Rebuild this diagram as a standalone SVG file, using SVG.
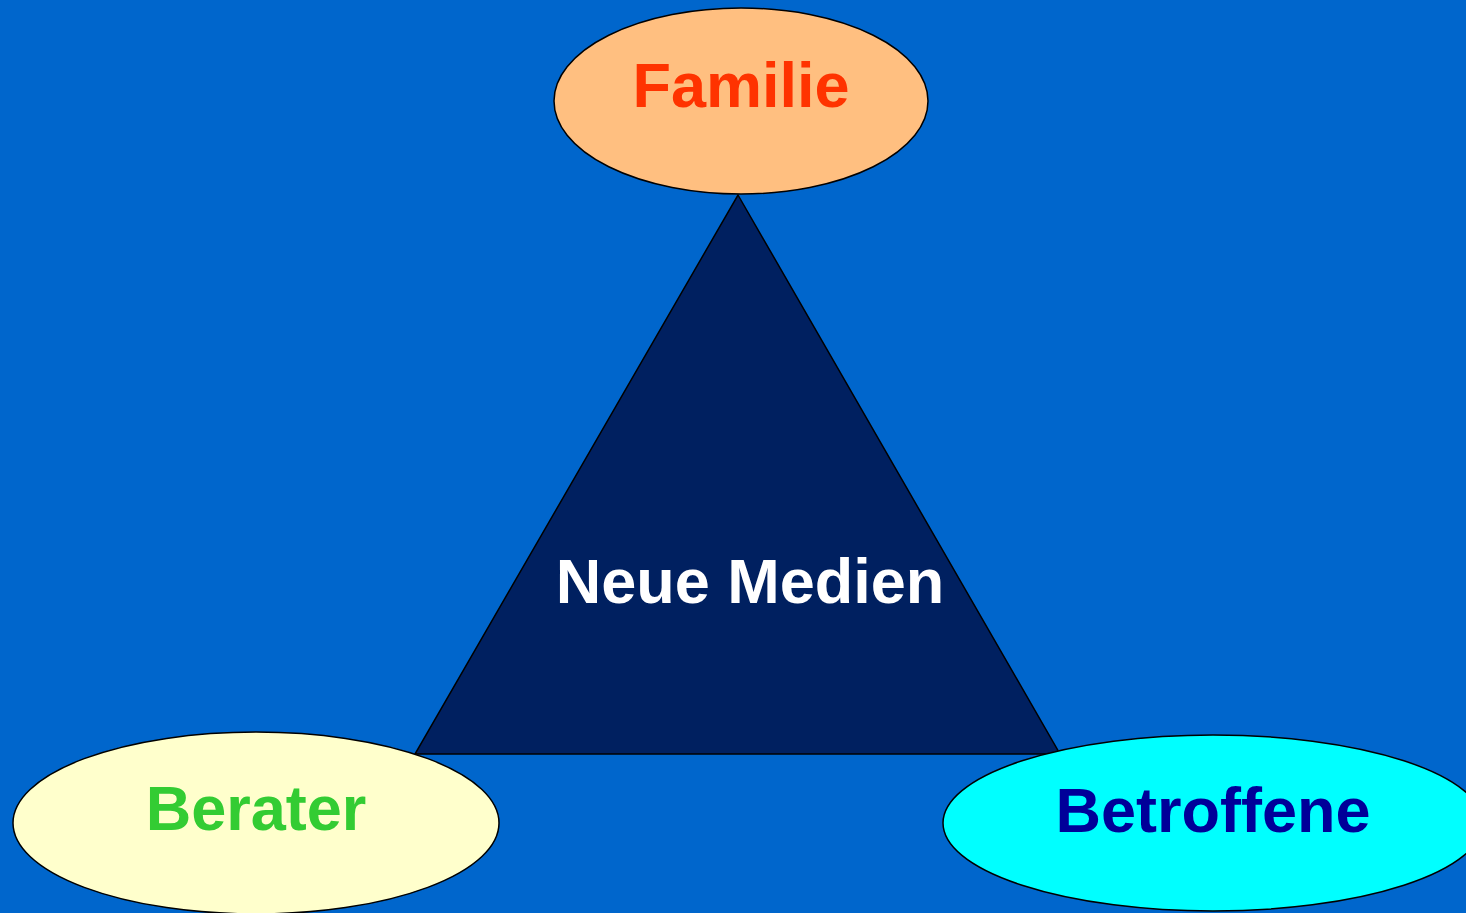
<svg xmlns="http://www.w3.org/2000/svg" width="1466" height="913" viewBox="0 0 1466 913">
<style>
.shape{stroke:#000;stroke-width:1.5}
.lbl{font-family:"Liberation Sans",Arial,sans-serif;font-weight:bold;font-size:63px;text-anchor:middle}
</style>
<rect x="0" y="0" width="1466" height="913" fill="#0066CC"/>
<g id="neue-medien">
<polygon class="shape" points="738,195 1060,754 415,754" fill="#002060"/>
<text class="lbl" x="750" y="603" fill="#FFFFFF">Neue Medien</text>
</g>
<g id="familie">
<ellipse class="shape" cx="741" cy="101" rx="187" ry="93" fill="#FFBF80"/>
<text class="lbl" x="741" y="107" fill="#FF3300">Familie</text>
</g>
<g id="berater">
<ellipse class="shape" cx="256" cy="823" rx="243" ry="91" fill="#FFFFCC"/>
<text class="lbl" x="256" y="830" fill="#33CC33">Berater</text>
</g>
<g id="betroffene">
<ellipse class="shape" cx="1213" cy="823" rx="270" ry="88" fill="#00FFFF"/>
<text class="lbl" x="1213" y="832" fill="#000099">Betroffene</text>
</g>
<g id="connectors"></g>
</svg>
